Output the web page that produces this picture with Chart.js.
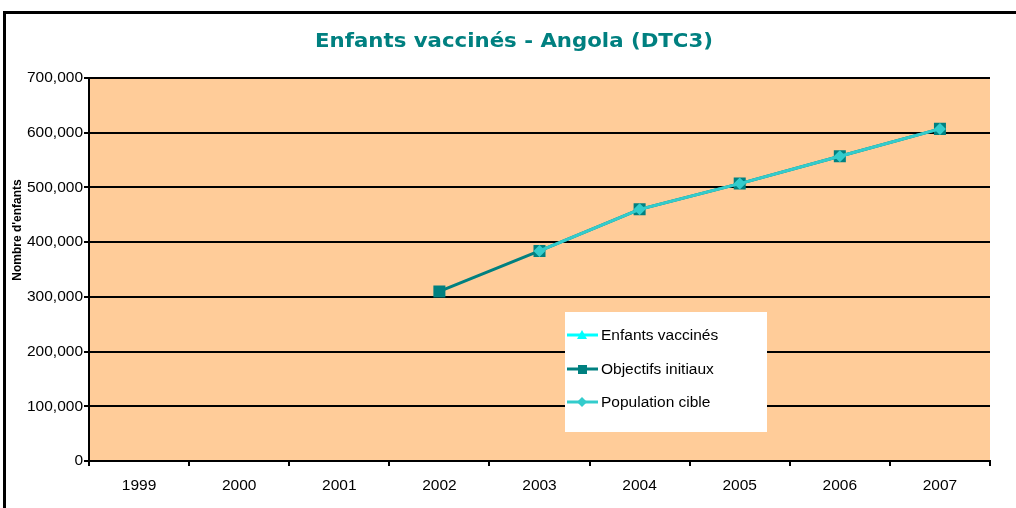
<!DOCTYPE html>
<html><head><meta charset="utf-8">
<script src="https://cdn.jsdelivr.net/npm/chart.js@4.4.1/dist/chart.umd.min.js"></script>
<style>html,body{margin:0;padding:0;background:#fff}#wrap{width:1016px;height:508px}</style>
</head><body><div id="wrap"><canvas id="c" width="1016" height="508"></canvas></div>
<script>
const chartTitle = "Enfants vaccinés - Angola (DTC3)";
const yTitle = "Nombre d'enfants";
const years = ["1999","2000","2001","2002","2003","2004","2005","2006","2007"];
const enfantsVaccines = [null,null,null,null,null,null,null,null,null];
const objectifsInitiaux = [null,null,null,310000,384000,460000,507000,557000,607000];
const populationCible = [null,null,null,null,384000,460000,507000,557000,607000];
const seriesNames = ["Enfants vaccinés","Objectifs initiaux","Population cible"];

const decor = {
  id:'decor',
  beforeDraw(chart){
    const {ctx, chartArea:a} = chart;
    ctx.save();
    ctx.fillStyle='#fff'; ctx.fillRect(0,0,chart.width,chart.height);
    ctx.fillStyle='#FFCC99'; ctx.fillRect(a.left,a.top,a.right-a.left,a.bottom-a.top);
    ctx.restore();
  },
  afterDraw(chart){
    const {ctx} = chart;
    ctx.save();
    ctx.strokeStyle='#000'; ctx.lineWidth=3;
    ctx.strokeRect(4.5,12.5,1020,510);
    // title
    ctx.save();
    ctx.translate(514,42); ctx.scale(1.12,1);
    ctx.fillStyle='#008080'; ctx.font='bold 19px "DejaVu Sans"';
    ctx.textAlign='center'; ctx.textBaseline='middle';
    ctx.fillText(chartTitle,0,0);
    ctx.restore();
    // y title
    ctx.save();
    ctx.translate(18,230); ctx.rotate(-Math.PI/2);
    ctx.fillStyle='#000'; ctx.font='bold 12px "Liberation Sans"';
    ctx.textAlign='center'; ctx.textBaseline='middle';
    ctx.fillText(yTitle,0,0);
    ctx.restore();
    // legend
    const lx=565, ly=312, lw=202, lh=120;
    ctx.fillStyle='#fff'; ctx.fillRect(lx,ly,lw,lh);
    const rows=[335,369,402];
    chart.data.datasets.forEach((ds,i)=>{
      const y=rows[i];
      ctx.strokeStyle=ds.borderColor; ctx.lineWidth=3;
      ctx.beginPath(); ctx.moveTo(567,y); ctx.lineTo(598,y); ctx.stroke();
      ctx.fillStyle=ds.pointBackgroundColor;
      ctx.beginPath();
      if(ds.pointStyle==='triangle'){ ctx.moveTo(582,y-5); ctx.lineTo(587,y+4); ctx.lineTo(577,y+4); ctx.closePath(); }
      else if(ds.pointStyle==='rect'){ ctx.rect(578,y-4,9,9); }
      else { ctx.moveTo(582,y-5); ctx.lineTo(587,y); ctx.lineTo(582,y+5); ctx.lineTo(577,y); ctx.closePath(); }
      ctx.fill();
      ctx.fillStyle='#000'; ctx.font='15.5px "Liberation Sans"';
      ctx.textAlign='left'; ctx.textBaseline='middle';
      ctx.fillText(ds.label,601,y+1);
    });
    ctx.restore();
  }
};

new Chart(document.getElementById('c'),{
  type:'line',
  data:{
    labels:years,
    datasets:[
      {label:seriesNames[0],data:enfantsVaccines,order:0,borderColor:'#00FFFF',backgroundColor:'#00FFFF',pointBackgroundColor:'#00FFFF',pointBorderColor:'#00FFFF',pointStyle:'triangle',pointRadius:5,borderWidth:3},
      {label:seriesNames[1],data:objectifsInitiaux,order:2,borderColor:'#008080',backgroundColor:'#008080',pointBackgroundColor:'#008080',pointBorderColor:'#008080',pointStyle:'rect',pointRadius:8.5,pointBorderWidth:0,borderWidth:3},
      {label:seriesNames[2],data:populationCible,order:1,borderColor:'#33CCCC',backgroundColor:'#33CCCC',pointBackgroundColor:'#33CCCC',pointBorderColor:'#33CCCC',pointStyle:'rectRot',pointRadius:6,pointBorderWidth:0,borderWidth:3}
    ]
  },
  options:{
    responsive:false,animation:false,
    layout:{padding:{left:0,right:26,top:78,bottom:0}},
    plugins:{legend:{display:false},title:{display:false},tooltip:{enabled:false}},
    scales:{
      x:{
        offset:true,
        grid:{offset:true,drawOnChartArea:false,drawTicks:true,tickLength:5,color:'#000',lineWidth:2},
        border:{display:true,color:'#000',width:2},
        ticks:{color:'#000',font:{family:'Liberation Sans',size:15.5},padding:10,maxRotation:0,autoSkip:false},
        afterFit(s){s.height=47;}
      },
      y:{
        min:0,max:700000,
        grid:{color:'#000',lineWidth:2,tickLength:5,tickColor:'#000'},
        border:{display:true,color:'#000',width:2},
        ticks:{stepSize:100000,color:'#000',font:{family:'Liberation Sans',size:15.5},padding:1,
          callback:v=>v.toLocaleString('en-US')},
        afterFit(s){s.width=89;}
      }
    }
  },
  plugins:[decor]
});
</script></body></html>
